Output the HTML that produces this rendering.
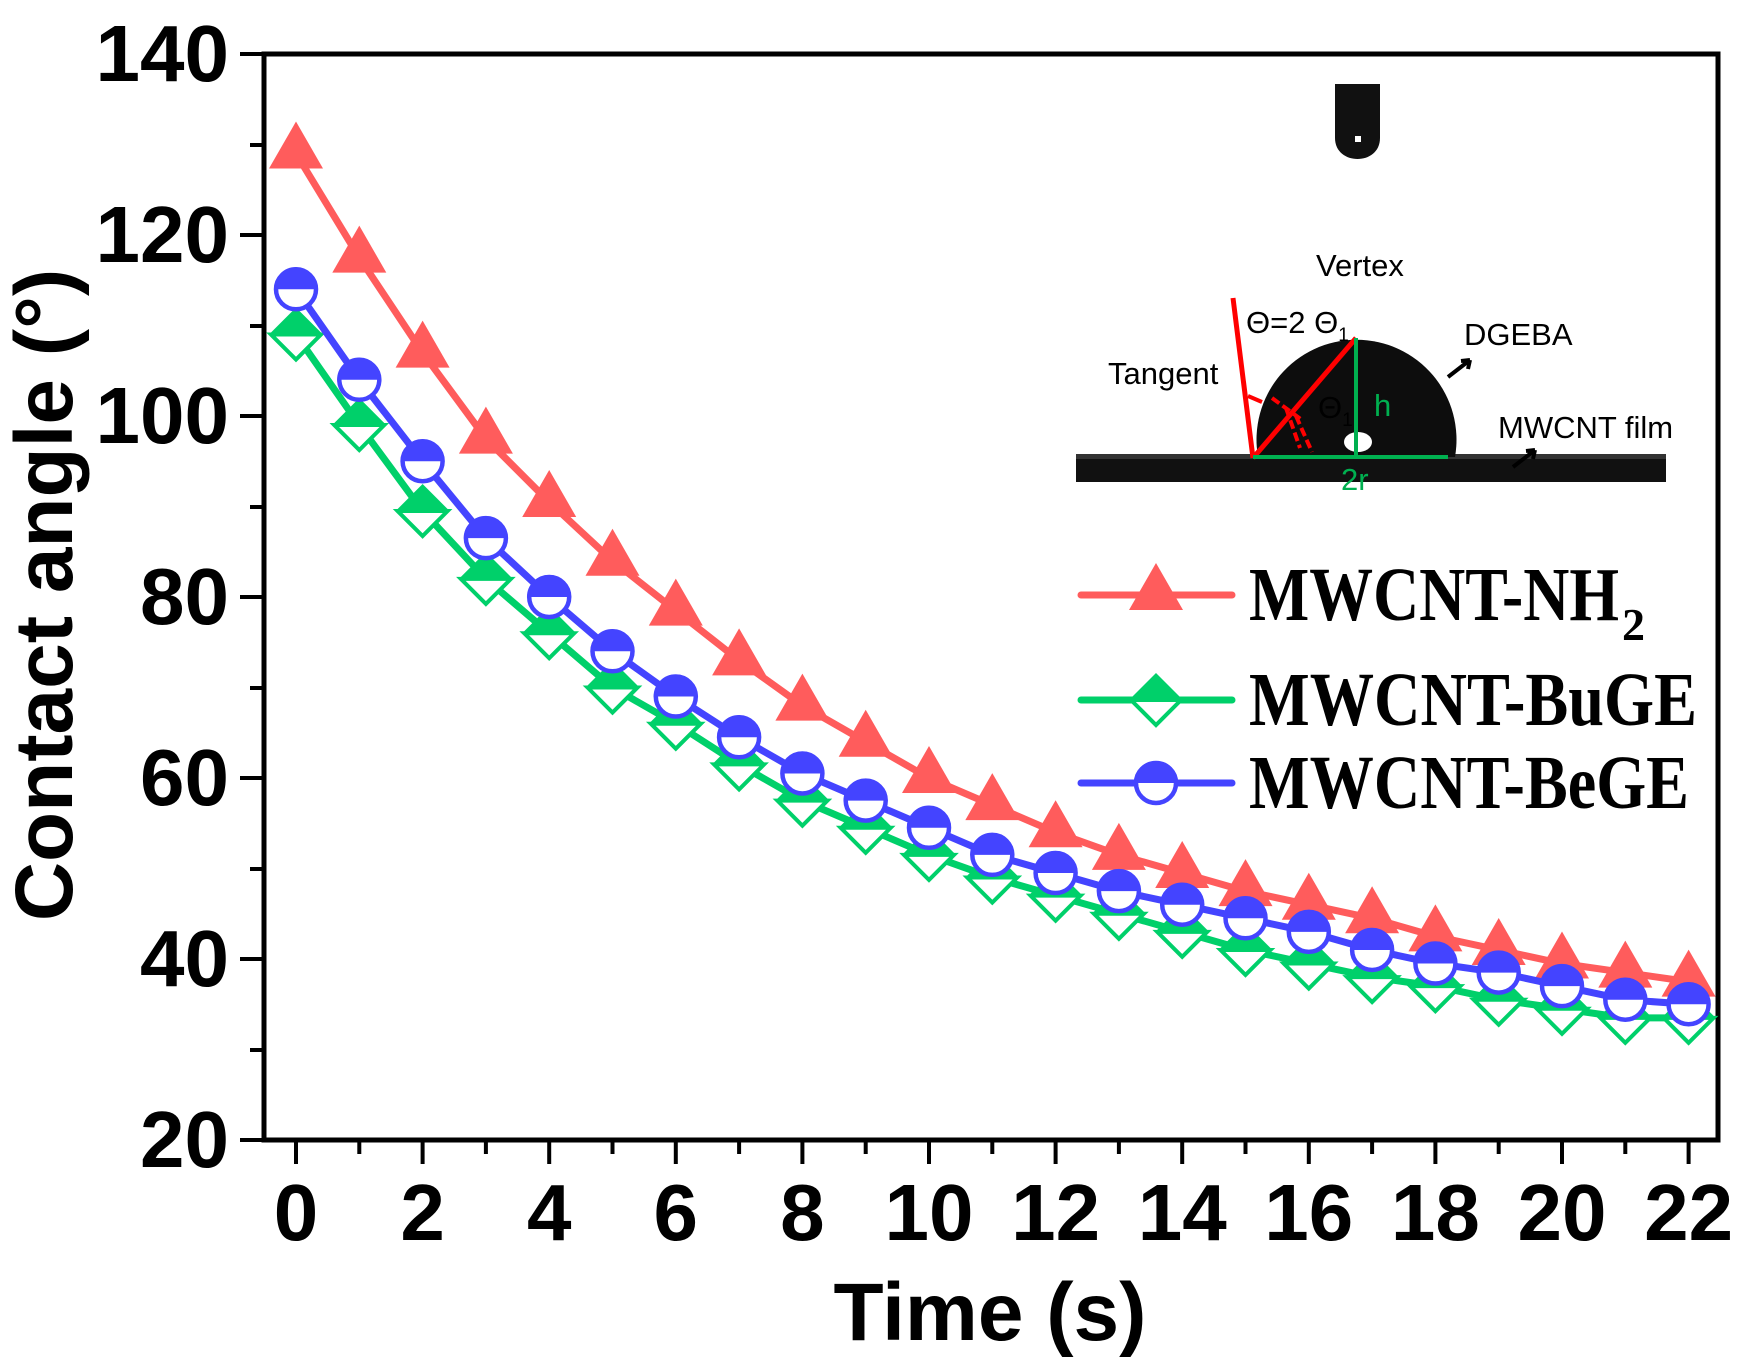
<!DOCTYPE html>
<html><head><meta charset="utf-8"><style>
html,body{margin:0;padding:0;background:#fff}
svg{display:block}
</style></head><body>
<svg width="1739" height="1360" viewBox="0 0 1739 1360" xmlns="http://www.w3.org/2000/svg">
<defs>
<g id="tri"><polygon points="0,-32 27,15 -27,15" fill="#ff5c5c"/></g>
<g id="dia"><polygon points="0,-27 27,0 -27,0" fill="#00d06a"/><polygon points="-25,0 0,25 25,0" fill="#fff" stroke="#00d06a" stroke-width="4"/></g>
<g id="cir"><circle r="20" fill="#fff" stroke="#4444ff" stroke-width="4.5"/><path d="M-22,0 A22,22 0 0 1 22,0 Z" fill="#4444ff"/></g>
</defs>
<rect width="1739" height="1360" fill="#fff"/>

<!-- inset photo -->
<g>
<rect x="1076" y="457" width="590" height="25" fill="#111"/>
<rect x="1076" y="454" width="590" height="5" fill="#333"/>
<path d="M1258,457 A100,100 0 1 1 1455,457 Z" fill="#0d0d0d"/>
<ellipse cx="1358" cy="442" rx="14" ry="10" fill="#fff"/>
<path d="M1335,84 L1380,84 L1380,138 C1380,166 1335,166 1335,138 Z" fill="#111"/>
<rect x="1355" y="136" width="6" height="6" fill="#fff"/>
<line x1="1233" y1="298" x2="1253" y2="458" stroke="#f00" stroke-width="5"/>
<line x1="1253" y1="458" x2="1356" y2="338" stroke="#f00" stroke-width="5"/>
<path d="M1248,396 L1262,402" stroke="#f00" stroke-width="4"/>
<path d="M1272,398 L1302,420 M1286,408 L1300,448 M1296,416 L1312,452" stroke="#f00" stroke-width="4" stroke-dasharray="9,4"/>
<line x1="1356" y1="338" x2="1356" y2="457" stroke="#00b050" stroke-width="4"/>
<line x1="1253" y1="457" x2="1448" y2="457" stroke="#00b050" stroke-width="4"/>
<path d="M1448,377 L1470,360 M1470,360 L1461,361 M1470,360 L1468,369" stroke="#000" stroke-width="4"/>
<path d="M1513,467 L1535,450 M1535,450 L1526,451 M1535,450 L1533,459" stroke="#000" stroke-width="4"/>
<g font-family="Liberation Sans, sans-serif" font-size="31" fill="#000">
<text x="1316" y="276">Vertex</text>
<text x="1108" y="384">Tangent</text>
<text x="1464" y="345">DGEBA</text>
<text x="1498" y="438">MWCNT film</text>
<text x="1246" y="333">Θ=2 Θ<tspan font-size="19" dy="8">1</tspan></text>
<text x="1318" y="418" fill="#000">Θ<tspan font-size="19" dy="8">1</tspan></text>
<text x="1374" y="416" fill="#00b050">h</text>
<text x="1341" y="490" fill="#00b050">2r</text>
</g>
</g>

<!-- axes -->
<g stroke="#000" stroke-width="5" fill="none">
<rect x="264" y="54" width="1454" height="1086"/>
</g>
<g stroke="#000" stroke-width="4">
<line x1="240" y1="54" x2="264" y2="54"/><line x1="240" y1="235" x2="264" y2="235"/><line x1="240" y1="416" x2="264" y2="416"/><line x1="240" y1="597" x2="264" y2="597"/><line x1="240" y1="778" x2="264" y2="778"/><line x1="240" y1="959" x2="264" y2="959"/><line x1="240" y1="1140" x2="264" y2="1140"/>
<line x1="250" y1="145" x2="264" y2="145"/><line x1="250" y1="326" x2="264" y2="326"/><line x1="250" y1="507" x2="264" y2="507"/><line x1="250" y1="688" x2="264" y2="688"/><line x1="250" y1="869" x2="264" y2="869"/><line x1="250" y1="1050" x2="264" y2="1050"/>
</g>
<g id="xt" stroke="#000" stroke-width="4"></g>
<g font-family="Liberation Sans, sans-serif" font-weight="bold" font-size="80" fill="#000" text-anchor="end">
<text x="229" y="81">140</text><text x="229" y="262">120</text><text x="229" y="443">100</text><text x="229" y="624">80</text><text x="229" y="805">60</text><text x="229" y="986">40</text><text x="229" y="1167">20</text>
</g>
<g id="xl" font-family="Liberation Sans, sans-serif" font-weight="bold" font-size="80" fill="#000" text-anchor="middle"></g>
<text transform="translate(72,595) rotate(-90)" font-family="Liberation Sans, sans-serif" font-weight="bold" font-size="82" text-anchor="middle">Contact angle (°)</text>
<text x="990" y="1340" font-family="Liberation Sans, sans-serif" font-weight="bold" font-size="82" text-anchor="middle">Time (s)</text>

<g id="series"></g>

<!-- legend -->
<g stroke-linecap="round" stroke-width="7">
<line x1="1081" y1="595" x2="1232" y2="595" stroke="#ff5c5c"/>
<line x1="1081" y1="700" x2="1232" y2="700" stroke="#00d06a"/>
<line x1="1081" y1="783" x2="1232" y2="783" stroke="#4444ff"/>
</g>
<use href="#tri" x="1156" y="595"/>
<use href="#dia" x="1156" y="700"/>
<use href="#cir" x="1156" y="783"/>
<g font-family="Liberation Serif, serif" font-weight="bold" font-size="76" fill="#000">
<text x="1249" y="620" textLength="370" lengthAdjust="spacingAndGlyphs">MWCNT-NH</text>
<text x="1622" y="640" font-size="46">2</text>
<text x="1249" y="725" textLength="448" lengthAdjust="spacingAndGlyphs">MWCNT-BuGE</text>
<text x="1249" y="808" textLength="440" lengthAdjust="spacingAndGlyphs">MWCNT-BeGE</text>
</g>

<script>
var NS="http://www.w3.org/2000/svg";
function X(i){return 296+i*63.3}
function Y(v){return 1140-(v-20)*9.05}
var xt=document.getElementById('xt'),xl=document.getElementById('xl');
for(var i=0;i<=22;i++){var l=document.createElementNS(NS,'line');l.setAttribute('x1',X(i));l.setAttribute('x2',X(i));l.setAttribute('y1',1140);l.setAttribute('y2',i%2?1154:1164);xt.appendChild(l);
if(i%2==0){var t=document.createElementNS(NS,'text');t.setAttribute('x',X(i));t.setAttribute('y',1240);t.textContent=i;xl.appendChild(t);}}
var R=[129,117.5,107,97.5,90.5,84,78.5,73,68,64,60,57,54,51.5,49.5,47.5,46,44.5,42.5,41,39.5,38.5,37.5];
var B=[114,104,95,86.5,80,74,69,64.5,60.5,57.5,54.5,51.5,49.5,47.5,46,44.5,43,41,39.5,38.5,37,35.5,35];
var G=[109,99,89.5,82,76,70,66,61.5,57.5,54.5,51.5,49,47,45,43,41,39.5,38,37,35.5,34.5,33.5,33.5];
var s=document.getElementById('series');
function line(d,c){var p=document.createElementNS(NS,'polyline');p.setAttribute('points',d.map(function(v,i){return X(i)+','+Y(v)}).join(' '));p.setAttribute('fill','none');p.setAttribute('stroke',c);p.setAttribute('stroke-width',7);p.setAttribute('stroke-linejoin','round');s.appendChild(p);}
function marks(d,id){d.forEach(function(v,i){var u=document.createElementNS(NS,'use');u.setAttribute('href','#'+id);u.setAttribute('x',X(i));u.setAttribute('y',Y(v));s.appendChild(u);});}
line(R,'#ff5c5c');marks(R,'tri');
line(G,'#00d06a');marks(G,'dia');
line(B,'#4444ff');marks(B,'cir');
</script>
</svg>
</body></html>
